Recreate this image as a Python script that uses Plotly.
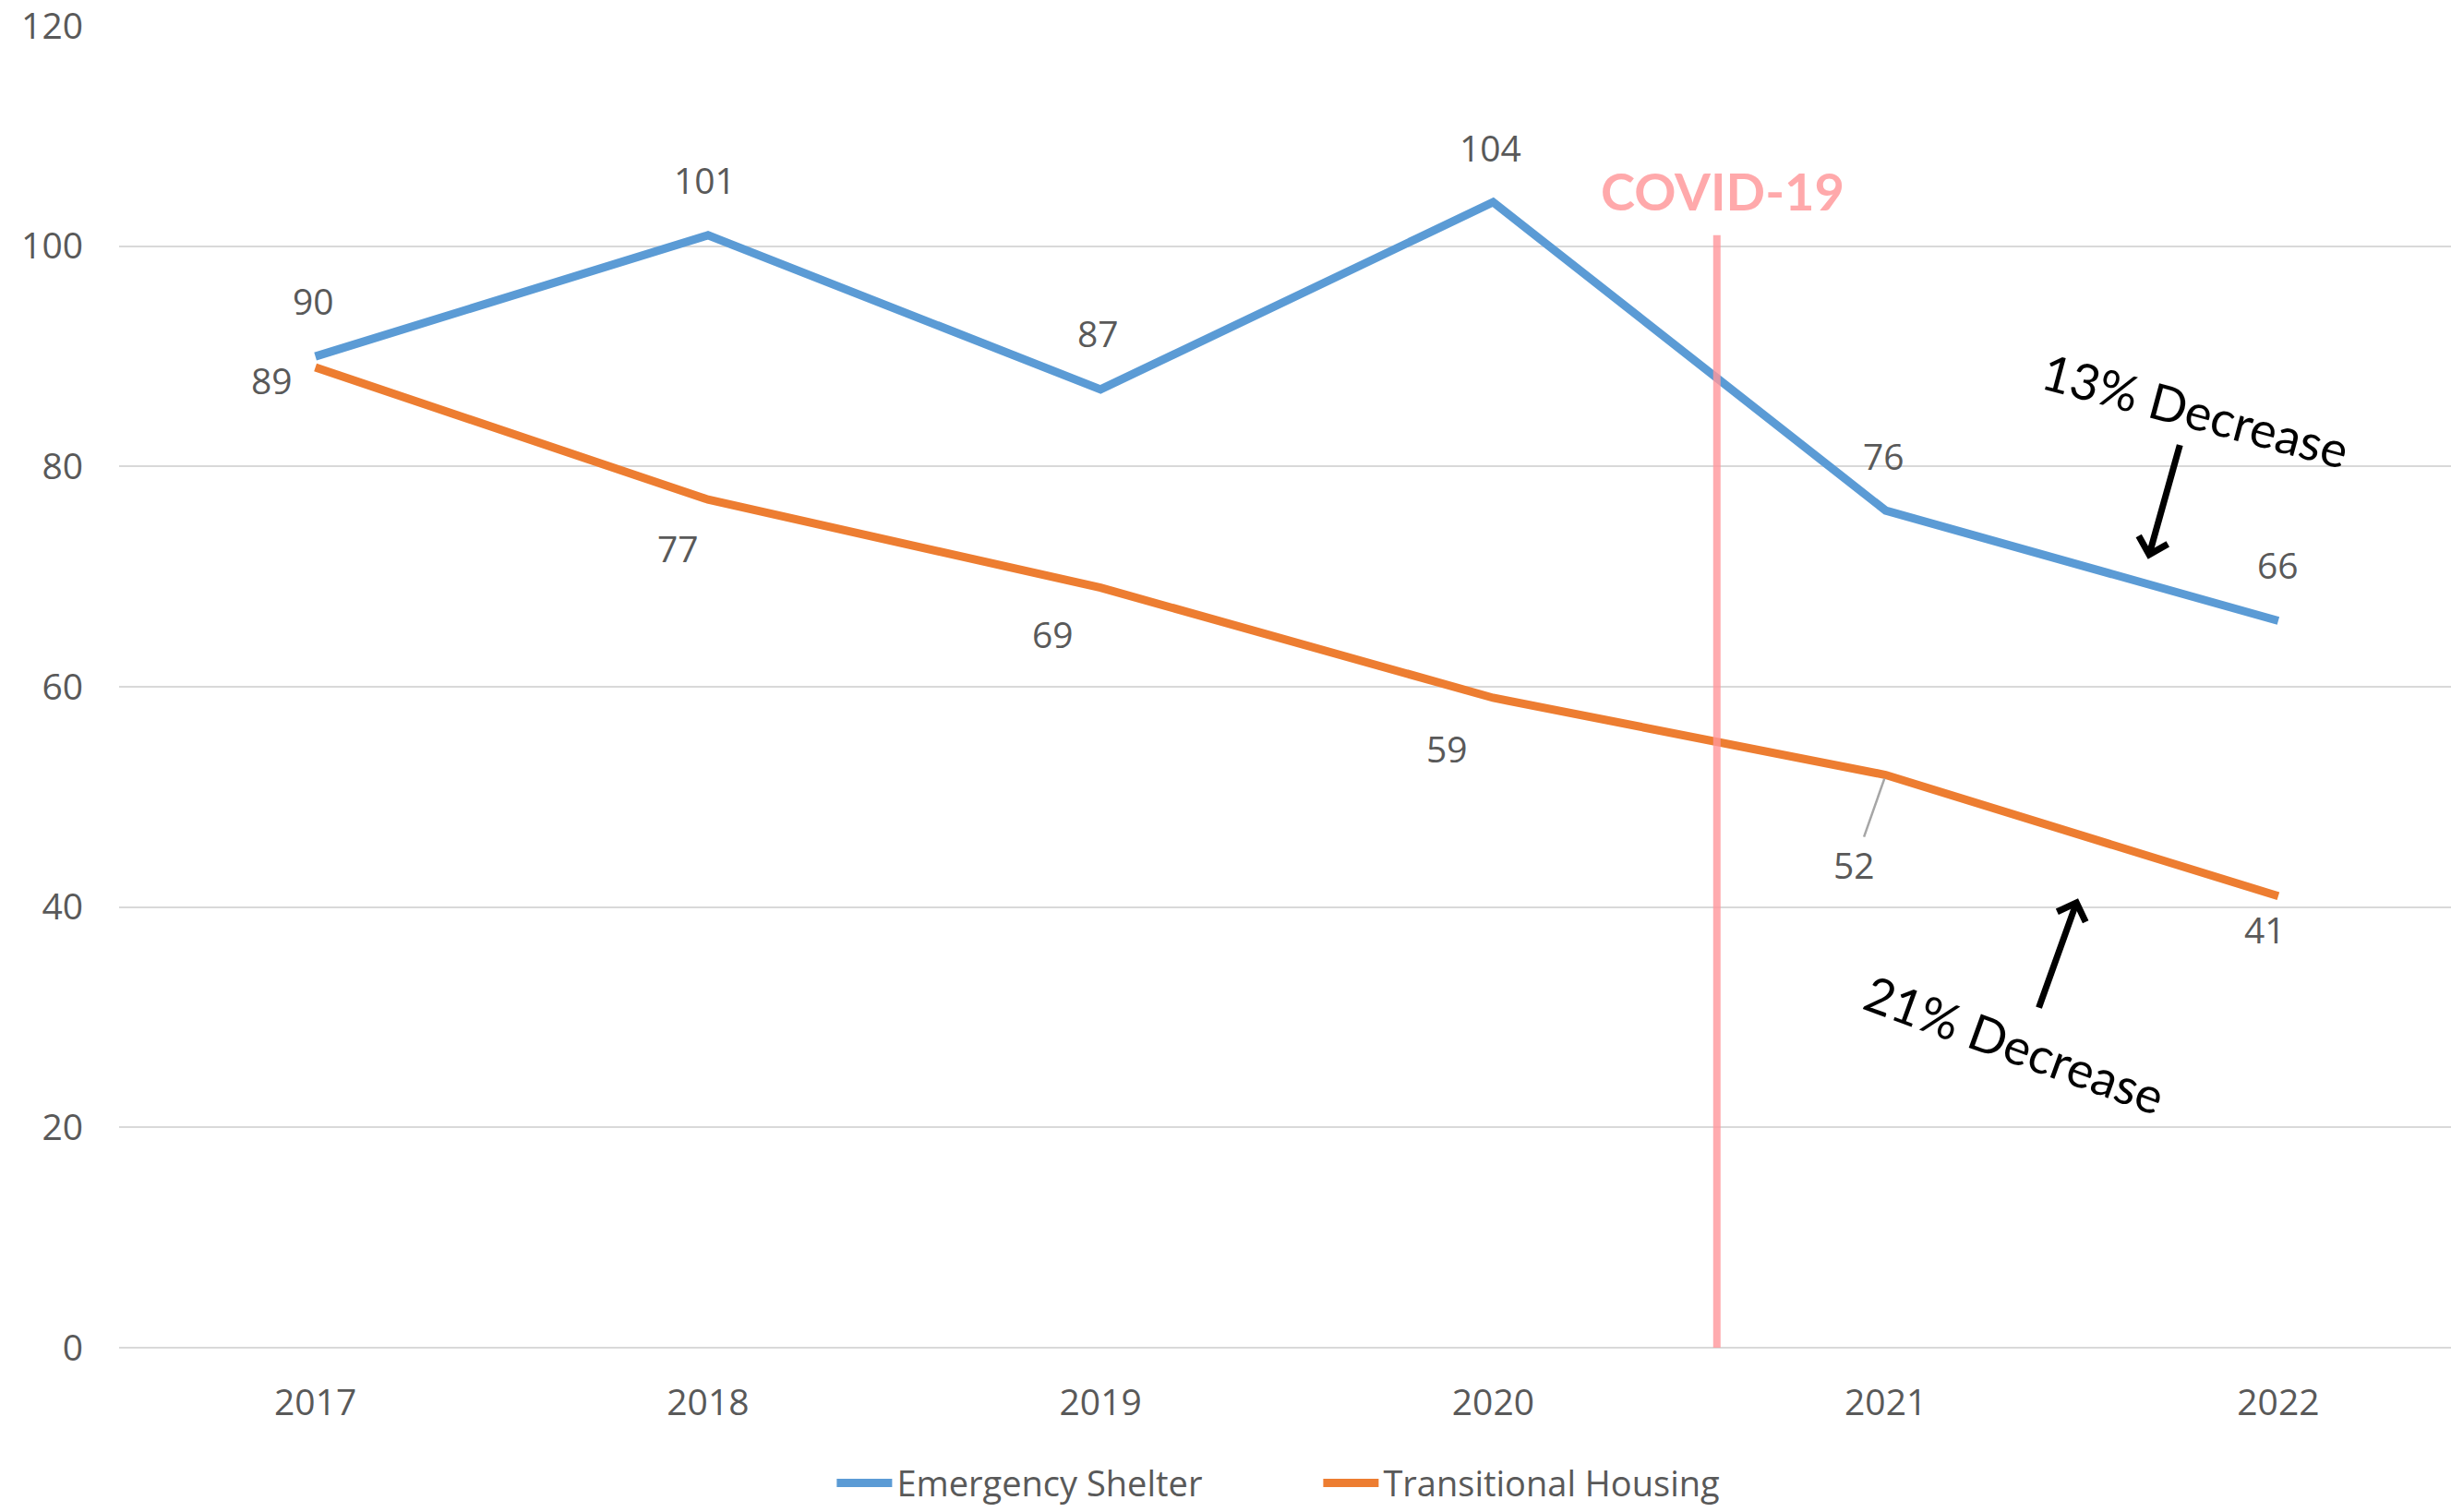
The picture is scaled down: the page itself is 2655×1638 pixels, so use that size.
import plotly.graph_objects as go

years = ["2017", "2018", "2019", "2020", "2021", "2022"]
emergency_shelter = [90, 101, 87, 104, 76, 66]
transitional_housing = [89, 77, 69, 59, 52, 41]

covid_label = "COVID-19"
covid_pos = 3.57        # between 2020 and 2021, in category units
covid_top = 101

notes = ["13% Decrease", "21% Decrease"]

BLUE = "#5B9BD5"
ORANGE = "#ED7D31"
GREY_TXT = "#595959"
TICK_FONT = dict(family="Open Sans", size=39, color=GREY_TXT)

fig = go.Figure()
fig.add_trace(go.Scatter(x=years, y=emergency_shelter, mode="lines", name="Emergency Shelter",
                         line=dict(color=BLUE, width=9)))
fig.add_trace(go.Scatter(x=years, y=transitional_housing, mode="lines", name="Transitional Housing",
                         line=dict(color=ORANGE, width=9)))

# covid marker line
fig.add_shape(type="line", xref="x", yref="y", x0=covid_pos, x1=covid_pos, y0=0, y1=covid_top,
              line=dict(color="rgba(255,150,155,0.8)", width=8), layer="above")
fig.add_annotation(x=covid_pos, y=covid_top, yshift=48, xshift=6, text=f"<b>{covid_label}</b>",
                   showarrow=False, font=dict(family="Lato", size=56, color="#FFA9AB"))

# data labels (pixel offsets are styling only)
es_shift = [(-2, 61), (-3, 60), (-3, 61), (-3, 60), (-2, 60), (0, 61)]
th_shift = [(-47, -13), (-32, -52), (-52, -50), (-50, -55), (-34, -97), (-14, -36)]
for i, v in enumerate(emergency_shelter):
    dx, dy = es_shift[i]
    fig.add_annotation(x=i, y=v, text=str(v), showarrow=False, xshift=dx, yshift=dy, font=TICK_FONT)
for i, v in enumerate(transitional_housing):
    dx, dy = th_shift[i]
    if i == 4:
        # this one has a leader line in the original
        fig.add_annotation(x=i, y=v, text=str(v), showarrow=True, arrowhead=0, ax=dx, ay=-dy,
                           arrowcolor="#A6A6A6", arrowwidth=2.5, standoff=4, startstandoff=2,
                           font=TICK_FONT)
    else:
        fig.add_annotation(x=i, y=v, text=str(v), showarrow=False, xshift=dx, yshift=dy, font=TICK_FONT)

# hand-drawn style callouts
NOTE_FONT = dict(family="Lato", size=54, color="black")
fig.add_annotation(x=4.668, y=71.6, ax=35, ay=-125, text="", showarrow=True, arrowhead=4,
                   arrowsize=0.9, arrowwidth=7, arrowcolor="black")
fig.add_annotation(x=4.79, y=85.1, text=notes[0], showarrow=False, textangle=15, font=NOTE_FONT)
fig.add_annotation(x=4.49, y=40.8, ax=-43, ay=120, text="", showarrow=True, arrowhead=4,
                   arrowsize=0.9, arrowwidth=7, arrowcolor="black")
fig.add_annotation(x=4.33, y=27.5, text=notes[1], showarrow=False, textangle=20, font=NOTE_FONT)

fig.update_layout(
    width=2655, height=1638,
    margin=dict(l=129, r=0, t=28, b=178, autoexpand=False),
    paper_bgcolor="white", plot_bgcolor="white",
    showlegend=True,
    legend=dict(orientation="h", xref="container", yref="container",
                x=0.538, xanchor="center", y=0.019, yanchor="middle",
                font=dict(family="Open Sans", size=38, color=GREY_TXT),
                itemwidth=60, entrywidth=452, tracegroupgap=0),
)
fig.update_xaxes(type="category", range=[-0.5, 5.44], showgrid=False, showline=False, zeroline=False,
                 tickfont=TICK_FONT, ticklabelstandoff=33, automargin=False)
fig.update_yaxes(range=[0, 120.01], tickvals=[0, 20, 40, 60, 80, 100, 120], showgrid=True,
                 gridcolor="#D9D9D9", gridwidth=2,
                 zeroline=True, zerolinecolor="#D9D9D9", zerolinewidth=2, showline=False,
                 tickfont=TICK_FONT, ticklabelstandoff=38, ticklabeloverflow="allow",
                 automargin=False)

# the default page has an 8px body margin that shifts the figure
fig.write_html("out.html", config={"displayModeBar": False},
               post_script="document.body.style.margin='0';")
